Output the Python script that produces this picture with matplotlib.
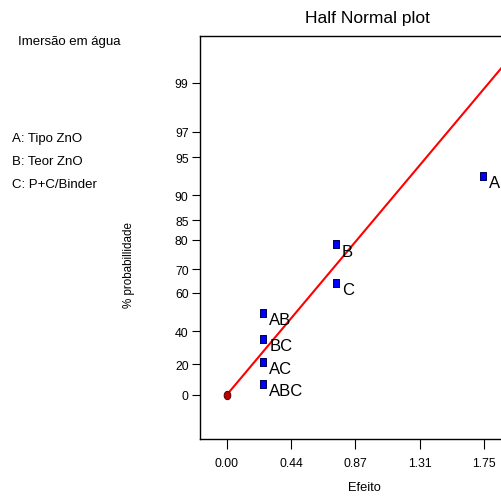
"""Half normal plot of factor effects (water immersion)"""
from statistics import NormalDist

import matplotlib
matplotlib.use("Agg")
import matplotlib.pyplot as plt
import numpy as np

plt.rcParams["font.family"] = ["Liberation Sans", "DejaVu Sans"]

# effects and their half-normal probability (%)
TERMS = ["ABC", "AC", "BC", "AB", "C", "B", "A"]
EFFECTS = [0.249, 0.249, 0.249, 0.249, 0.744, 0.744, 1.746]
PROB_PCT = [7.14, 21.43, 35.71, 50.0, 64.29, 78.57, 92.86]

# reference line through the origin
LINE_SLOPE = 1.443
LINE_X = [0.0, 2.5]

Y_TICKS_PCT = [0, 20, 40, 60, 70, 80, 85, 90, 95, 97, 99]
X_TICKS = [0.0, 0.4375, 0.875, 1.3125, 1.75]
X_TICK_LABELS = ["0.00", "0.44", "0.87", "1.31", "1.75"]

FACTORS = ["A: Tipo ZnO", "B: Teor ZnO", "C: P+C/Binder"]


def half_normal_z(pct):
    p = np.asarray(pct, dtype=float) / 100.0
    nd = NormalDist()
    return np.array([nd.inv_cdf(0.5 + v / 2.0) for v in np.atleast_1d(p)])


W, H = 501, 502
fig = plt.figure(figsize=(W / 100, H / 100), dpi=100)
ax = fig.add_axes([200 / W, 1 - 440 / H, 334 / W, 403 / H])

# rectangular and elliptical marker shapes
rect = [(-0.37, -0.5), (0.37, -0.5), (0.37, 0.5), (-0.37, 0.5), (-0.37, -0.5)]
t = np.linspace(0, 2 * np.pi, 40)
ellipse = list(zip(0.4 * np.cos(t), 0.5 * np.sin(t)))

lx = np.array(LINE_X)
ax.plot(lx, LINE_SLOPE * lx, color="#ff0000", lw=1.5, zorder=2)

z = half_normal_z(PROB_PCT)
ax.plot(EFFECTS, z, linestyle="none", marker=rect, markersize=5.8,
        markerfacecolor="#0000ff", markeredgecolor="#000050",
        markeredgewidth=0.7, zorder=3)
ax.plot([0.0], [0.0], linestyle="none", marker=ellipse, markersize=6.0,
        markerfacecolor="#c00000", markeredgecolor="#500000",
        markeredgewidth=0.7, zorder=4)

for name, x, zz in zip(TERMS, EFFECTS, z):
    ax.annotate(name, (x, zz), xytext=(4.2, -4.8), textcoords="offset points",
                ha="left", va="center", fontsize=12, color="black")

ax.set_xlim(-0.1816, 2.09)
ax.set_ylim(-0.363, 2.96)

ax.set_yticks(half_normal_z(Y_TICKS_PCT))
ax.set_yticklabels([str(v) for v in Y_TICKS_PCT])
ax.set_xticks(X_TICKS)
ax.set_xticklabels(X_TICK_LABELS)
ax.tick_params(axis="y", direction="out", length=5.8, width=0.8, pad=2.4,
               labelsize=8.8, colors="black")
ax.tick_params(axis="x", direction="out", length=7.0, width=0.8, pad=6.0,
               labelsize=8.8, colors="black")
for sp in ax.spines.values():
    sp.set_linewidth(1.0)
    sp.set_color("black")

fig.text(367 / W, 1 - 18 / H, "Half Normal plot", ha="center", va="center",
         fontsize=12.5)
fig.text(364 / W, 1 - 488.5 / H, "Efeito", ha="center", va="center",
         fontsize=9.3)
fig.text(129 / W, 1 - 265.5 / H, "% probabillidade", ha="center", va="center",
         rotation=90, fontsize=8.4)

fig.text(18 / W, 1 - 45 / H, "Imersão em água", ha="left", va="baseline",
         fontsize=9.5)
for i, label in enumerate(FACTORS):
    fig.text(12.5 / W, 1 - (142 + 23 * i) / H, label, ha="left",
             va="baseline", fontsize=9.5)

fig.savefig("out.png", dpi=100)
